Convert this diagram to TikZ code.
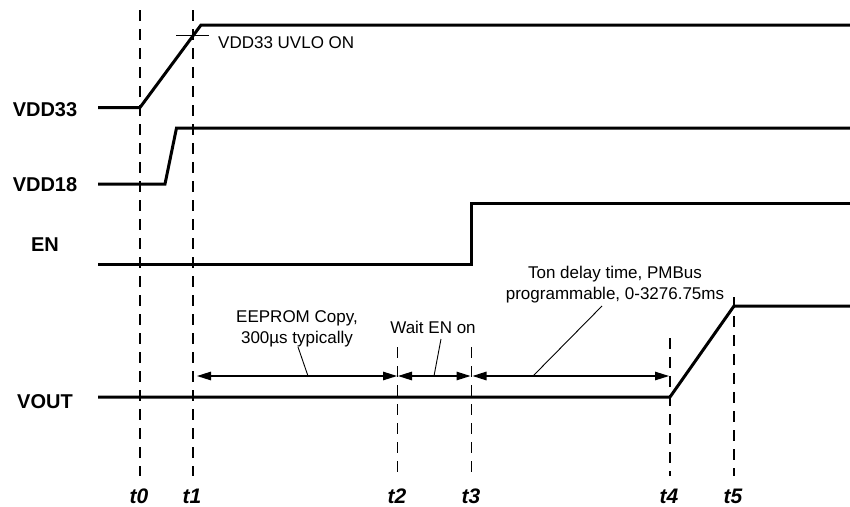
\documentclass[tikz,border=0pt]{standalone}
\usepackage{fontspec}
\setmainfont{Liberation Sans}
\usetikzlibrary{arrows.meta}
\begin{document}
\begin{tikzpicture}[x=1pt,y=-1pt,
  signal/.style={line width=3pt},
  tline/.style={line width=1.5pt,dash pattern=on 11pt off 8pt},
  dim/.style={line width=1.3pt,{Triangle[length=14pt,width=8.5pt]}-{Triangle[length=14pt,width=8.5pt]}},
  leader/.style={line width=0.9pt},
  siglabel/.style={font=\fontsize{20}{24}\selectfont\bfseries,anchor=base,inner sep=0pt},
  tlabel/.style={font=\fontsize{21}{24}\selectfont\bfseries\itshape,anchor=base,inner sep=0pt},
  note/.style={font=\fontsize{17}{21}\selectfont,inner sep=0pt,align=center}]
\useasboundingbox (0,0) rectangle (850,506);
% time lines
\coordinate (t0top) at (140,10);   \coordinate (t0bot) at (140,476);
\coordinate (t1top) at (193,10);   \coordinate (t1bot) at (193,476);
\coordinate (t2top) at (397.5,347); \coordinate (t2bot) at (397.5,476);
\coordinate (t3top) at (471.5,347); \coordinate (t3bot) at (471.5,476);
\coordinate (t4top) at (670,338);  \coordinate (t4bot) at (670,476);
\coordinate (t5top) at (734,297);  \coordinate (t5bot) at (734,476);
\foreach \t in {0,...,5} \draw[tline] (t\t top) -- (t\t bot);
\node[tlabel] (lt0) at (139,503) {t0};
\node[tlabel] (lt1) at (192,503) {t1};
\node[tlabel] (lt2) at (397,503) {t2};
\node[tlabel] (lt3) at (471,503) {t3};
\node[tlabel] (lt4) at (669,503) {t4};
\node[tlabel] (lt5) at (733,503) {t5};
% signals
\draw[signal] (98,107.5) -- (140,107.5) -- (201,25) -- (850,25);
\draw[signal] (98,184) -- (165,184) -- (176.5,128) -- (850,128);
\draw[signal] (98,264) -- (471.5,264) -- (471.5,203) -- (850,203);
\draw[signal] (98,397) -- (670,397) -- (734,306) -- (850,306);
\node[siglabel] (lvdd33) at (45,116.5) {VDD33};
\node[siglabel] (lvdd18) at (45,191.7) {VDD18};
\node[siglabel] (len) at (45,251.7) {EN};
\node[siglabel] (lvout) at (45,408) {VOUT};
% UVLO marker
\coordinate (uvl) at (176,35); \coordinate (uvr) at (209,35);
\draw[line width=1pt] (uvl) -- (uvr);
\node[note,anchor=base west] (uvlo) at (218,48) {VDD33 UVLO ON};
% dimension arrows
\coordinate (a1l) at (197,376); \coordinate (a1r) at (397,376);
\coordinate (a2l) at (398,376); \coordinate (a2r) at (470.5,376);
\coordinate (a3l) at (472.5,376); \coordinate (a3r) at (669,376);
\draw[dim] (a1l) -- (a1r);
\draw[dim] (a2l) -- (a2r);
\draw[dim] (a3l) -- (a3r);
% notes
\node[note] (ee) at (297,329) {EEPROM Copy,\\300µs typically};
\node[note,anchor=base] (wait) at (433,333) {Wait EN on};
\node[note] (ton) at (615,284.5) {Ton delay time, PMBus\\programmable, 0-3276.75ms};
\coordinate (eeS) at (298,347); \coordinate (eeE) at (308,376);
\coordinate (waS) at (441,339); \coordinate (waE) at (434,376);
\coordinate (toS) at (602,306); \coordinate (toE) at (533,376);
\draw[leader] (eeS) -- (eeE);
\draw[leader] (waS) -- (waE);
\draw[leader] (toS) -- (toE);
\end{tikzpicture}
\end{document}
